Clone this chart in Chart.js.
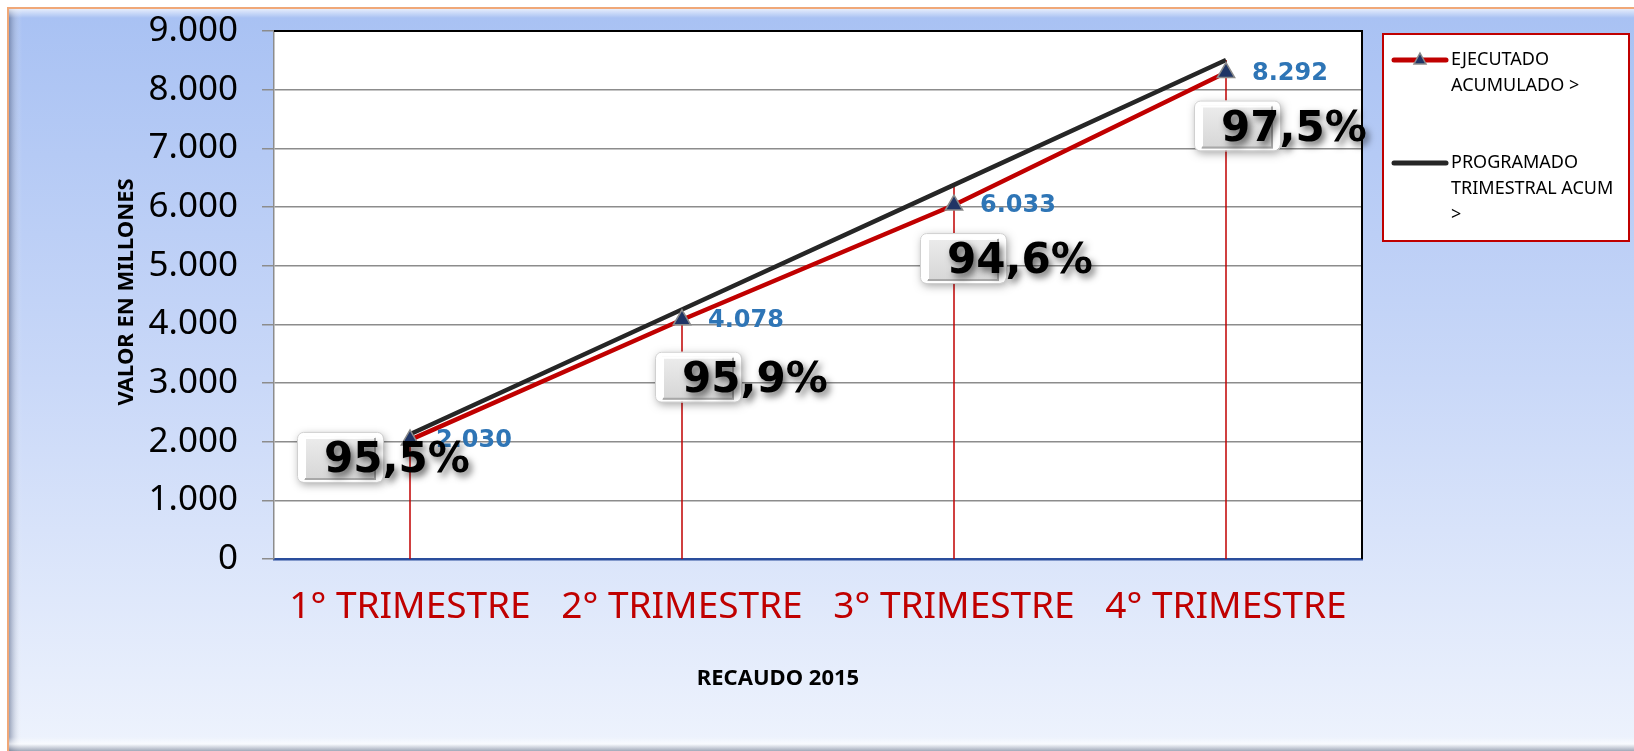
<!DOCTYPE html>
<html lang="es">
<head>
<meta charset="UTF-8">
<title>Recaudo 2015</title>
<script src="https://cdn.jsdelivr.net/npm/chart.js"></script>
<style>
  body { margin: 0; background: #fff; }
  canvas { display: block; }
</style>
</head>
<body>
<canvas id="grafico" width="1634" height="751"></canvas>
<script>
  // datos
  const trimestres = ['1° TRIMESTRE', '2° TRIMESTRE', '3° TRIMESTRE', '4° TRIMESTRE'];
  const ejecutado = [2030, 4078, 6033, 8292];     // ejecutado acumulado
  const programado = [2126, 4252, 6377, 8505];    // programado trimestral acum
  const cumplimiento = [95.5, 95.9, 94.6, 97.5];  // % de cumplimiento
  const ticksY = [0, 1000, 2000, 3000, 4000, 5000, 6000, 7000, 8000, 9000];

  // donde van las cajitas de % respecto al punto (px)
  const pctDx = [-86, 0, -7, -5];
  const pctDy = [17, 57, 53, 53];

  function miles(v) {
    return String(v).replace(/\B(?=(\d{3})+(?!\d))/g, '.');
  }

  const fondo = {
    id: 'fondo',
    beforeDraw(chart) {
      const ctx = chart.ctx, W = chart.width, H = chart.height;
      ctx.save();
      ctx.fillStyle = '#fff';
      ctx.fillRect(0, 0, W, H);
      const g = ctx.createLinearGradient(0, 8, 0, H);
      g.addColorStop(0, '#a8c1f3');
      g.addColorStop(0.5, '#c9d8f8');
      g.addColorStop(1, '#eef3fd');
      ctx.fillStyle = g;
      ctx.fillRect(8, 8, W - 8, H - 8);
      // bisel
      const lg = ctx.createLinearGradient(9, 0, 22, 0);
      lg.addColorStop(0, 'rgba(80,95,130,0.55)');
      lg.addColorStop(1, 'rgba(255,255,255,0)');
      ctx.fillStyle = lg;
      ctx.fillRect(9, 9, 13, H - 9);
      const tg = ctx.createLinearGradient(0, 9, 0, 18);
      tg.addColorStop(0, 'rgba(255,255,255,0.7)');
      tg.addColorStop(1, 'rgba(255,255,255,0)');
      ctx.fillStyle = tg;
      ctx.fillRect(9, 9, W - 9, 9);
      const bg = ctx.createLinearGradient(0, H - 14, 0, H);
      bg.addColorStop(0, 'rgba(255,255,255,0)');
      bg.addColorStop(0.5, 'rgba(255,255,255,0.6)');
      bg.addColorStop(1, 'rgba(110,120,140,0.6)');
      ctx.fillStyle = bg;
      ctx.fillRect(9, H - 14, W - 9, 14);
      ctx.strokeStyle = '#f0a878';
      ctx.lineWidth = 2;
      ctx.beginPath();
      ctx.moveTo(8, H);
      ctx.lineTo(8, 8);
      ctx.lineTo(W, 8);
      ctx.stroke();
      // area del grafico
      const ca = chart.chartArea;
      ctx.fillStyle = '#fff';
      ctx.fillRect(ca.left, ca.top, ca.right - ca.left, ca.bottom - ca.top);
      ctx.restore();
    },
    beforeDatasetsDraw(chart) {
      const ctx = chart.ctx, ca = chart.chartArea;
      const m0 = chart.getDatasetMeta(0).data;
      const m1 = chart.getDatasetMeta(1).data;
      ctx.save();
      // borde superior y derecho
      ctx.strokeStyle = '#000';
      ctx.lineWidth = 2;
      ctx.beginPath();
      ctx.moveTo(ca.left, ca.top);
      ctx.lineTo(ca.right, ca.top);
      ctx.lineTo(ca.right, ca.bottom);
      ctx.stroke();
      // lineas de caida rojas
      ctx.strokeStyle = '#c00000';
      ctx.lineWidth = 1.5;
      m0.forEach((p, i) => {
        const top = Math.min(p.y, m1[i].y);
        ctx.beginPath();
        ctx.moveTo(p.x, top);
        ctx.lineTo(p.x, ca.bottom);
        ctx.stroke();
      });
      ctx.restore();
    }
  };

  const etiquetas = {
    id: 'etiquetas',
    afterDatasetsDraw(chart) {
      const ctx = chart.ctx;
      const pts = chart.getDatasetMeta(0).data;
      ctx.save();
      // valores en azul
      ctx.font = 'bold 24px "DejaVu Sans"';
      ctx.fillStyle = '#2e75b6';
      ctx.textAlign = 'left';
      ctx.textBaseline = 'middle';
      pts.forEach((p, i) => ctx.fillText(miles(ejecutado[i]), p.x + 26, p.y + 1));

      // cajitas de %
      pts.forEach((p, i) => {
        const tx = p.x + pctDx[i], ty = p.y + pctDy[i];
        const bx = tx - 27, by = ty - 25, bw = 86, bh = 50;
        ctx.save();
        ctx.shadowColor = 'rgba(0,0,0,0.35)';
        ctx.shadowBlur = 8;
        ctx.shadowOffsetX = 2;
        ctx.shadowOffsetY = 3;
        ctx.fillStyle = '#fff';
        ctx.beginPath();
        ctx.roundRect(bx, by, bw, bh, 6);
        ctx.fill();
        ctx.restore();
        ctx.strokeStyle = '#d0d0d0';
        ctx.lineWidth = 1;
        ctx.beginPath();
        ctx.roundRect(bx + 0.5, by + 0.5, bw, bh, 6);
        ctx.stroke();
        // boton gris
        const ix = bx + 7, iy = by + 5, iw = 72, ih = 43;
        const gg = ctx.createLinearGradient(0, iy, 0, iy + ih);
        gg.addColorStop(0, '#ececec');
        gg.addColorStop(1, '#d6d6d6');
        ctx.fillStyle = gg;
        ctx.fillRect(ix, iy, iw, ih);
        ctx.strokeStyle = '#ffffff';
        ctx.lineWidth = 2;
        ctx.beginPath();
        ctx.moveTo(ix + 1, iy + ih - 1);
        ctx.lineTo(ix + 1, iy + 1);
        ctx.lineTo(ix + iw - 1, iy + 1);
        ctx.stroke();
        ctx.strokeStyle = '#a8a8a8';
        ctx.beginPath();
        ctx.moveTo(ix + iw - 1, iy + 1);
        ctx.lineTo(ix + iw - 1, iy + ih - 1);
        ctx.lineTo(ix + 1, iy + ih - 1);
        ctx.stroke();
        // texto
        ctx.save();
        ctx.font = 'bold 42px "DejaVu Sans"';
        ctx.fillStyle = '#000';
        ctx.textBaseline = 'alphabetic';
        ctx.shadowColor = 'rgba(0,0,0,0.6)';
        ctx.shadowBlur = 7;
        ctx.shadowOffsetX = 3;
        ctx.shadowOffsetY = 4;
        ctx.fillText(cumplimiento[i].toFixed(1).replace('.', ',') + '%', tx, ty + 15);
        ctx.restore();
      });
      ctx.restore();
    },
    afterDraw(chart) {
      const ctx = chart.ctx;
      ctx.save();
      // titulos de ejes
      ctx.fillStyle = '#000';
      ctx.font = 'bold 22px "Noto Sans"';
      ctx.textAlign = 'center';
      ctx.textBaseline = 'middle';
      ctx.fillText('RECAUDO 2015', 778, 679);
      ctx.save();
      ctx.translate(127, 292);
      ctx.rotate(-Math.PI / 2);
      ctx.fillText('VALOR EN MILLONES', 0, 0);
      ctx.restore();

      // leyenda
      ctx.fillStyle = '#fff';
      ctx.fillRect(1383, 34, 246, 207);
      ctx.strokeStyle = '#c00000';
      ctx.lineWidth = 2;
      ctx.strokeRect(1383, 34, 246, 207);
      ctx.lineCap = 'round';
      ctx.lineWidth = 5;
      ctx.strokeStyle = '#c00000';
      ctx.beginPath(); ctx.moveTo(1394, 60); ctx.lineTo(1446, 60); ctx.stroke();
      ctx.strokeStyle = '#262626';
      ctx.beginPath(); ctx.moveTo(1394, 163); ctx.lineTo(1446, 163); ctx.stroke();
      // triangulo
      ctx.fillStyle = '#1f3565';
      ctx.strokeStyle = '#8a8a8a';
      ctx.lineWidth = 1.5;
      ctx.lineCap = 'butt';
      ctx.beginPath();
      ctx.moveTo(1420, 53); ctx.lineTo(1426, 64); ctx.lineTo(1414, 64); ctx.closePath();
      ctx.fill(); ctx.stroke();
      ctx.fillStyle = '#000';
      ctx.font = '18px "Noto Sans"';
      ctx.textAlign = 'left';
      ctx.fillText('EJECUTADO', 1451, 60);
      ctx.fillText('ACUMULADO >', 1451, 86);
      ctx.fillText('PROGRAMADO', 1451, 163);
      ctx.fillText('TRIMESTRAL ACUM', 1451, 189);
      ctx.fillText('>', 1451, 215);
      ctx.restore();
    }
  };

  const data = {
    labels: trimestres,
    datasets: [
      {
        label: 'EJECUTADO ACUMULADO >',
        data: ejecutado,
        borderColor: '#c00000',
        borderWidth: 4.5,
        tension: 0,
        pointStyle: 'triangle',
        pointRadius: 10,
        pointBackgroundColor: '#1f3565',
        pointBorderColor: '#8a8a8a',
        pointBorderWidth: 1.5
      },
      {
        label: 'PROGRAMADO TRIMESTRAL ACUM >',
        data: programado,
        borderColor: '#262626',
        borderWidth: 4.5,
        tension: 0,
        pointRadius: 0
      }
    ]
  };

  const config = {
    type: 'line',
    data: data,
    options: {
      responsive: false,
      animation: false,
      events: [],
      layout: { padding: { top: 31, right: 272, left: 0, bottom: 0 } },
      plugins: { legend: { display: false }, tooltip: { enabled: false } },
      scales: {
        x: {
          offset: true,
          afterFit(s) { s.height = 192; s.paddingLeft = 0; s.paddingRight = 0; },
          grid: { display: true, color: 'transparent', drawTicks: false, offset: true },
          border: { color: '#2a4d9c', width: 2.5 },
          ticks: {
            color: '#c00000',
            font: { family: 'Noto Sans', size: 37 },
            padding: 26,
            maxRotation: 0
          }
        },
        y: {
          min: 0,
          max: 9000,
          afterFit(s) { s.width = 274; s.paddingTop = 0; s.paddingBottom = 0; },
          afterBuildTicks(s) { s.ticks = ticksY.map(v => ({ value: v })); },
          grid: {
            color: c => (c.tick && c.tick.value === 9000 ? '#000' : '#8c8c8c'),
            tickColor: '#8c8c8c',
            lineWidth: 1.5,
            tickLength: 12
          },
          border: { color: '#8c8c8c', width: 1.5 },
          ticks: {
            color: '#000',
            font: { family: 'Noto Sans', size: 35 },
            padding: 24,
            callback: v => miles(v)
          }
        }
      }
    },
    plugins: [fondo, etiquetas]
  };

  const grafico = new Chart(document.getElementById('grafico'), config);
</script>
</body>
</html>
